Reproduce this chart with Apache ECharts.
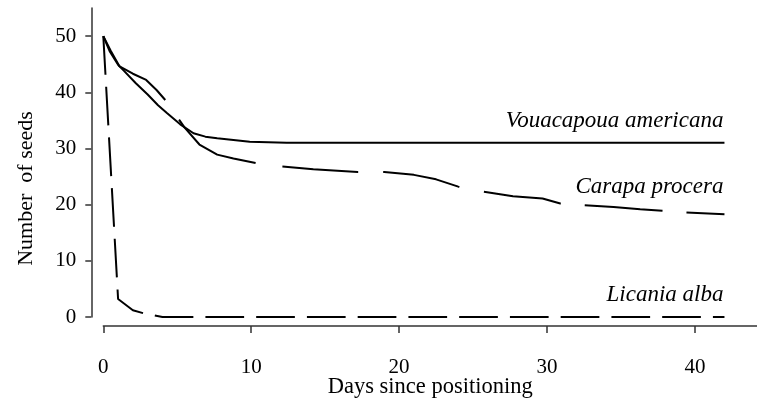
<!DOCTYPE html>
<html><head><meta charset="utf-8">
<script src="https://cdn.jsdelivr.net/npm/echarts@6/dist/echarts.min.js"></script>
<style>html,body{margin:0;padding:0;background:#fff}#c{width:757px;height:405px}</style>
</head><body><div id="c"></div>
<script>
// tick labels
const xTicks = [0, 10, 20, 30, 40];
const yTicks = [0, 10, 20, 30, 40, 50];

// series names
const seriesNames = ['Vouacapoua americana', 'Carapa procera', 'Licania alba'];

// Vouacapoua americana (solid)
const vouaDays  = [0, 0.45, 1, 1.4, 2.2, 3.0, 3.7, 4.3, 5.2, 6.1, 6.9, 7.7, 8.8, 9.9, 12.4, 42];
const vouaSeeds = [50, 47.2, 44.9, 43.8, 41.6, 39.6, 37.7, 36.3, 34.3, 32.7, 32.1, 31.8, 31.5, 31.2, 31.0, 31.0];

// Carapa procera (long dash)
const carDays  = [0, 0.5, 1.1, 2, 2.9, 3.6, 4.2, 5, 5.5, 6.5, 7.7, 8.8, 10.3, 12.1, 14.2, 17.2, 19, 21, 22.5, 24, 25.7, 27.7, 29.7, 30.9, 32.5, 34.5, 36.3, 37.8, 39.3, 42];
const carSeeds = [50, 47.4, 44.6, 43.3, 42.2, 40.4, 38.6, 35.6, 33.7, 30.7, 28.9, 28.2, 27.4, 26.8, 26.3, 25.8, 25.8, 25.3, 24.5, 23.2, 22.3, 21.5, 21.1, 20.2, 19.9, 19.6, 19.2, 18.9, 18.6, 18.3];

// Licania alba (dash)
const licDays  = [0, 1, 2, 2.8, 4, 42];
const licSeeds = [50, 3.2, 1.2, 0.6, 0, 0];

const zip = (a, b) => a.map((v, i) => [v, b[i]]);
const serif = "'Liberation Serif','Times New Roman',serif";

const endLabel = (dy) => ({
  show: true,
  formatter: p => p.seriesName,
  fontFamily: serif, fontStyle: 'italic', fontSize: 23, color: '#000',
  align: 'right', verticalAlign: 'middle', distance: 0, offset: [-1, dy]
});

const chart = echarts.init(document.getElementById('c'), null, {renderer: 'canvas'});
chart.setOption({
  animation: false,
  backgroundColor: '#fff',
  grid: {left: 103.3, top: 8, right: 0, bottom: 88, containLabel: false, outerBoundsMode: 'none'},
  xAxis: {
    type: 'value', min: 0, max: 44.2, interval: 10, offset: 9,
    name: 'Days since positioning', nameLocation: 'middle', nameGap: 50, nameMoveOverlap: false,
    nameTextStyle: {fontFamily: serif, fontSize: 22.5, color: '#000'},
    axisLine: {show: true, onZero: false, lineStyle: {color: '#333', width: 1.5}},
    axisTick: {show: true, length: 7, customValues: xTicks, lineStyle: {color: '#333', width: 1.5}},
    axisLabel: {customValues: xTicks, margin: 31, fontFamily: serif, fontSize: 21, color: '#000'},
    splitLine: {show: false}
  },
  yAxis: {
    type: 'value', min: 0, max: 55, interval: 10, offset: 12,
    name: 'Number  of seeds', nameLocation: 'middle', nameGap: 54, nameMoveOverlap: false,
    nameTextStyle: {fontFamily: serif, fontSize: 22, color: '#000', padding: [0, 52, 0, 0]},
    axisLine: {show: true, onZero: false, lineStyle: {color: '#333', width: 1.5}},
    axisTick: {show: true, length: 6, customValues: yTicks, lineStyle: {color: '#333', width: 1.5}},
    axisLabel: {customValues: yTicks, margin: 15, fontFamily: serif, fontSize: 21, color: '#000'},
    splitLine: {show: false}
  },
  series: [
    {name: seriesNames[0], type: 'line', data: zip(vouaDays, vouaSeeds), symbol: 'none', z: 3,
     lineStyle: {color: '#000', width: 2, type: 'solid'}, endLabel: endLabel(-22)},
    {name: seriesNames[1], type: 'line', data: zip(carDays, carSeeds), symbol: 'none', z: 2,
     lineStyle: {color: '#000', width: 2, type: [92, 24, 92, 27, 76, 25, 78, 25, 78, 24, 78, 24, 78, 24]},
     endLabel: endLabel(-27)},
    {name: seriesNames[2], type: 'line', data: zip(licDays, licSeeds), symbol: 'none', z: 2,
     lineStyle: {color: '#000', width: 2, type: [38.7, 12.05]}, endLabel: endLabel(-22)}
  ]
});
</script></body></html>
